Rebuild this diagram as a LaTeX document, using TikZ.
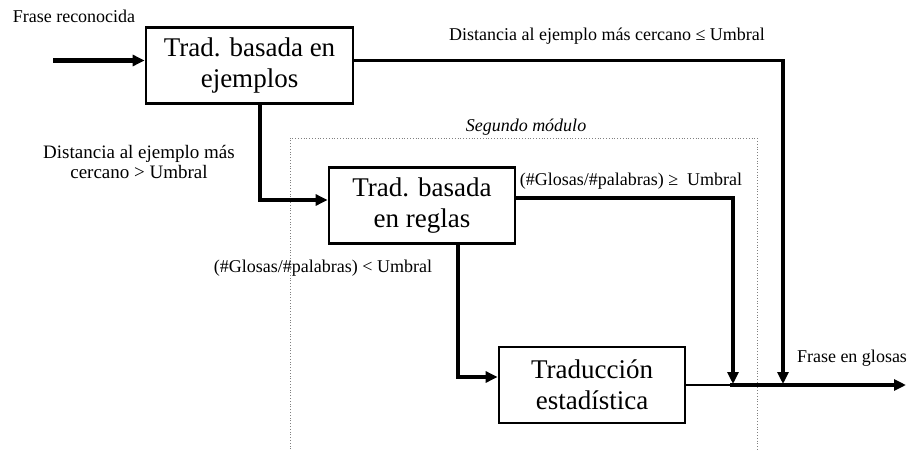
\documentclass[tikz,border=0pt]{standalone}
\usepackage{fontspec}
\setmainfont{Liberation Serif}
\usetikzlibrary{arrows.meta}

\begin{document}
\begin{tikzpicture}[x=1pt,y=-1pt]
\tikzstyle{bloque} = [draw, line width=2.8pt, minimum height=76pt, align=center, inner sep=0pt, font=\fontsize{27}{31}\selectfont]
\tikzstyle{etiq} = [align=center, inner sep=0pt, font=\fontsize{18}{21}\selectfont]
\tikzstyle{flecha} = [line width=3.2pt, -{Triangle[length=12pt,width=11pt]}]

\useasboundingbox (0,0) rectangle (908,450);

% modulo 2
\draw[gray, dotted, line width=0.8pt] (290,452) -- (290,138) -- (757,138) -- (757,452);
\node[etiq, font=\fontsize{18}{21}\itshape] (modulo) at (526,127) {Segundo módulo};

% bloques
\node[bloque, minimum width=207pt] (ejemplos) at (249.5,65.5) {Trad. basada en\\ejemplos};
\node[bloque, minimum width=186pt] (reglas) at (422,205.5) {Trad. basada\\en reglas};
\node[bloque, minimum width=186pt] (estad) at (592,385) {Traducción\\estadística};

% puntos de las flechas
\coordinate (ini) at (53,60.5);
\coordinate (baja1) at (783,384);
\coordinate (baja2) at (733,384);
\coordinate (union) at (730,385);
\coordinate (fin) at (906,385);

% etiquetas
\node[etiq] (entrada) at (74,16) {Frase reconocida};
\node[etiq] (cerca) at (607,36) {Distancia al ejemplo más cercano ≤ Umbral};
\node[etiq, font=\fontsize{19}{20}\selectfont] (lejos) at (139,162) {Distancia al ejemplo más\\cercano > Umbral};
\node[etiq] (mayor) at (631,181) {(\#Glosas/\#palabras) ≥~ Umbral};
\node[etiq] (menor) at (323,268) {(\#Glosas/\#palabras) < Umbral};
\node[etiq] (salida) at (852,358) {Frase en glosas};

% conexiones
\draw[flecha, line width=5pt] (ini) -- (ini -| ejemplos.west);
\draw[flecha] ([yshift=5pt]ejemplos.east) -| (baja1);
\draw[flecha] ([xshift=10.5pt]ejemplos.south) |- ([yshift=5.5pt]reglas.west);
\draw[flecha] ([yshift=7.5pt]reglas.east) -| (baja2);
\draw[flecha] ([xshift=36pt]reglas.south) |- ([yshift=8pt]estad.west);
\draw[line width=1.3pt] (estad.east) -- (union);
\draw[flecha] (union) -- (fin);

\end{tikzpicture}
\end{document}
